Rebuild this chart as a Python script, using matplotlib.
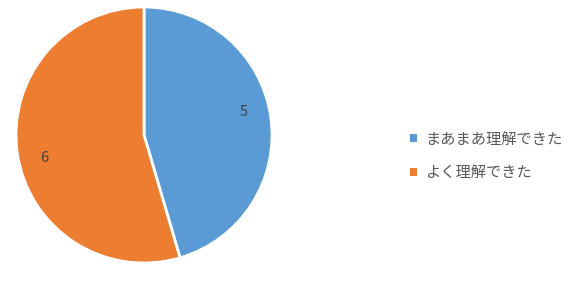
import matplotlib
matplotlib.use('Agg')
import matplotlib.pyplot as plt
from matplotlib.patches import Patch
import numpy as np

plt.rcParams['font.family'] = ['Noto Sans CJK JP', 'DejaVu Sans']

# answers
labels = ['まあまあ理解できた', 'よく理解できた']
counts = [5, 6]
colors = ['#5B9BD5', '#ED7D31']

fig = plt.figure(figsize=(5.75, 2.85), dpi=100)
ax = fig.add_axes([16 / 575, 22 / 285, 256 / 575, 256 / 285])

wedges, texts, autotexts = ax.pie(
    counts, colors=colors, startangle=90, counterclock=False,
    autopct=lambda p: '%d' % round(p * sum(counts) / 100),
    pctdistance=0.82,
    wedgeprops=dict(edgecolor='white', linewidth=2))
# excel puts the data labels a little off the wedge middle
for w, t in zip(wedges, autotexts):
    ang = np.deg2rad((w.theta1 + w.theta2) / 2 + 5)
    t.set_position((0.8 * np.cos(ang), 0.8 * np.sin(ang)))
    t.set_color('#404040')
    t.set_fontsize(10.5)
ax.set_xlim(-1.0, 1.0)
ax.set_ylim(-1.0, 1.0)
ax.set_aspect('equal')

handles = [Patch(facecolor=c, edgecolor='none') for c in colors]
fig.legend(handles, labels, loc='center left',
           bbox_to_anchor=(396 / 575, 1 - 156 / 285),
           frameon=False, fontsize=11, labelcolor='#595959',
           handlelength=0.45, handleheight=0.45, handletextpad=0.55,
           labelspacing=1.1)

fig.savefig('out.png', dpi=100)
